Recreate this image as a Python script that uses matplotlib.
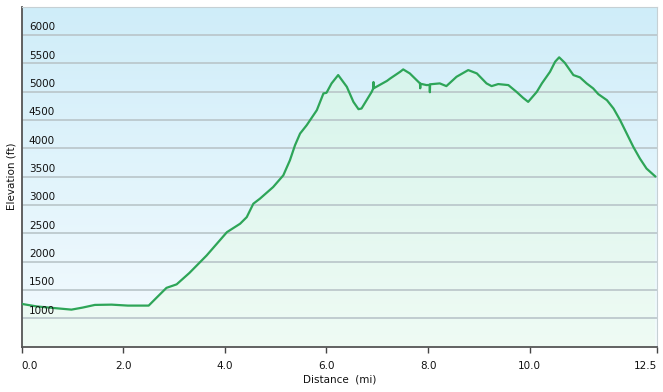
import matplotlib.pyplot as plt
import numpy as np
from matplotlib.colors import LinearSegmentedColormap

# distance (mi) / elevation (ft)
dist = [0.0, 0.3, 0.6, 0.98, 1.2, 1.44, 1.77, 2.09, 2.36, 2.5, 2.65, 2.85,
        2.98, 3.05, 3.3, 3.64, 4.04, 4.30, 4.43, 4.56, 4.69, 4.95, 5.15, 5.28,
        5.38, 5.48, 5.61, 5.81, 5.94, 6.0, 6.10, 6.23, 6.40, 6.53, 6.63, 6.69,
        6.79, 6.89, 6.92, 6.925, 6.93, 7.19, 7.25, 7.45, 7.51, 7.64, 7.84,
        7.845, 7.85, 7.97, 8.03, 8.035, 8.04, 8.23, 8.36, 8.56, 8.79, 8.96,
        9.15, 9.25, 9.38, 9.58, 9.74, 9.87, 9.97, 10.14, 10.24, 10.40, 10.50,
        10.58, 10.69, 10.86, 10.99, 11.12, 11.25, 11.35, 11.52, 11.65, 11.78,
        11.91, 12.04, 12.17, 12.30, 12.47]
elev = [1255, 1210, 1185, 1154, 1190, 1237, 1242, 1225, 1225, 1225, 1360, 1538,
        1578, 1600, 1800, 2109, 2521, 2670, 2786, 3023, 3112, 3317, 3524, 3789,
        4054, 4261, 4408, 4674, 4969, 4980, 5146, 5293, 5086, 4820, 4691, 4703,
        4850, 4997, 5057, 5170, 5060, 5190, 5230, 5351, 5393, 5322, 5146,
        5060, 5140, 5116, 5120, 4990, 5130, 5146, 5098, 5263, 5381, 5322,
        5146, 5098, 5134, 5116, 4997, 4891, 4820, 4997, 5146, 5351, 5528,
        5606, 5510, 5293, 5252, 5146, 5057, 4957, 4850, 4703, 4497,
        4261, 4025, 3819, 3643, 3506]

x_ticks = [0.0, 2.0, 4.0, 6.0, 8.0, 10.0, 12.5]
x_labels = ["0.0", "2.0", "4.0", "6.0", "8.0", "10.0", "12.5"]
y_grid = [1000, 1500, 2000, 2500, 3000, 3500, 4000, 4500, 5000, 5500, 6000]

xmin, xmax = 0.0, 12.5
ymin, ymax = 500, 6500

fig = plt.figure(figsize=(6.63, 3.92), dpi=100)
ax = fig.add_axes([0.0327, 0.1156, 0.9578, 0.8674])
ax.set_xlim(xmin, xmax)
ax.set_ylim(ymin, ymax)

# sky gradient behind everything
bg = LinearSegmentedColormap.from_list("bg", ["#f4fbfe", "#cfedf9"])
grad = np.linspace(0, 1, 256).reshape(-1, 1)
ax.imshow(grad, cmap=bg, origin="lower", aspect="auto",
          extent=[xmin, xmax, ymin, ymax], zorder=0)

# green gradient under the curve
fillcm = LinearSegmentedColormap.from_list("fill", ["#effbf4", "#d2f3ea"])
poly = ax.fill_between(dist, elev, ymin, color="none", zorder=1)
im = ax.imshow(grad, cmap=fillcm, origin="lower", aspect="auto",
               extent=[xmin, xmax, ymin, ymax], zorder=1)
im.set_clip_path(poly.get_paths()[0], transform=ax.transData)

for g in y_grid:
    ax.axhline(g, color="#b9c5c9", lw=1.2, zorder=2)
    ax.text(0.14, g + 45, str(g), fontsize=7.5, color="#111111",
            ha="left", va="bottom", zorder=4)

ax.plot(dist, elev, color="#2ea558", lw=1.6, zorder=3, solid_joinstyle="round")

ax.set_yticks([])
ax.set_xticks(x_ticks)
ax.set_xticklabels(x_labels, fontsize=7.5, color="#111111")
ax.get_xticklabels()[0].set_horizontalalignment("left")
ax.get_xticklabels()[-1].set_horizontalalignment("right")
ax.tick_params(axis="x", direction="out", length=4, width=1, color="#444444", pad=6)

ax.spines["left"].set_color("#555555")
ax.spines["bottom"].set_color("#555555")
ax.spines["left"].set_linewidth(1.3)
ax.spines["bottom"].set_linewidth(1.3)
ax.spines["top"].set_color("#c6d0d4")
ax.spines["right"].set_color("#c6d0d4")

ax.set_xlabel("Distance  (mi)", fontsize=7.5, color="#111111", labelpad=3)
ax.set_ylabel("Elevation (ft)", fontsize=7.5, color="#111111", labelpad=4)

fig.savefig("out.png", dpi=100)
